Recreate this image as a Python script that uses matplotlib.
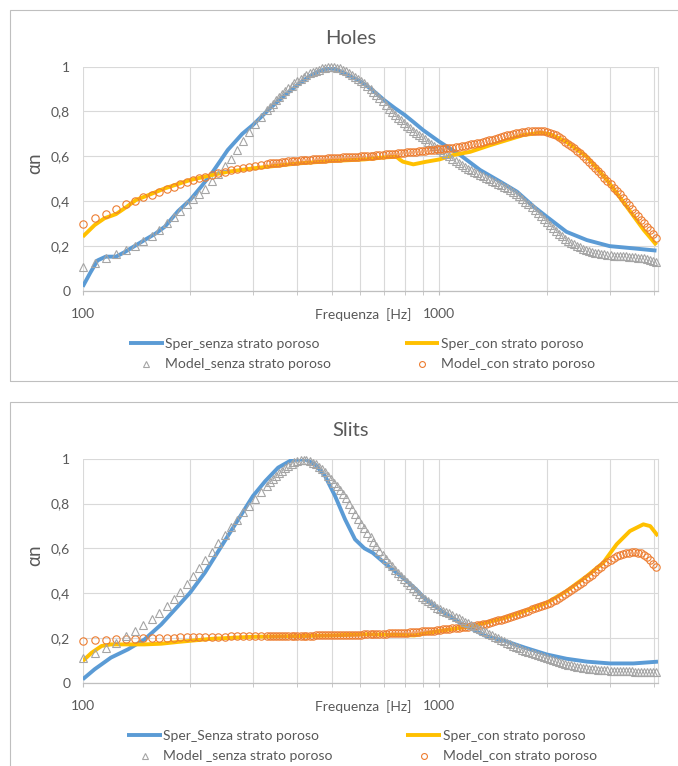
import matplotlib.pyplot as plt
from matplotlib.patches import Rectangle
from matplotlib.ticker import FixedLocator, NullFormatter

plt.rcParams['font.family'] = ['Lato', 'DejaVu Sans']

BLUE = '#5B9BD5'
YELLOW = '#FFC000'
GRAY = '#A5A5A5'
ORANGE = '#ED7D31'
TXT = '#595959'
GRID = '#D9D9D9'

# frequencies of the model points [Hz]
f_model = [100, 108, 116, 124, 132, 140, 148, 156, 164, 172, 180, 188, 196, 204, 212, 220, 230, 240, 250,
           260, 270, 281, 292, 304, 316, 329, 342, 356, 370,
           385, 400, 416, 433, 450, 468, 487, 506, 527, 548,
           570, 592, 616, 641, 666, 693, 721, 750, 780, 811,
           843, 877, 912, 949, 987, 1026, 1067, 1110, 1154, 1200,
           1248, 1298, 1350, 1404, 1460, 1519, 1580, 1643, 1709, 1777,
           1848, 1922, 1999, 2079, 2162, 2249, 2339, 2432, 2530, 2631,
           2736, 2846, 2959, 3078, 3201, 3329, 3462, 3600, 3744, 3894,
           4050]
# the model points are denser above ~330 Hz: these lie between the ones above
f_model_b = [335, 349, 363, 377, 392, 408, 424, 441, 459, 477,
             496, 516, 537, 559, 581, 604, 628, 653, 679, 707,
             735, 765, 795, 827, 860, 894, 930, 968, 1006, 1046,
             1088, 1132, 1177, 1224, 1273, 1324, 1377, 1432, 1489, 1549,
             1611, 1676, 1743, 1812, 1885, 1960, 2039, 2120, 2205, 2294,
             2385, 2481, 2580, 2683, 2791, 2902, 3018, 3139, 3265, 3395,
             3531, 3672, 3819, 3972]

# ---- Holes ----
holes_sper_senza_f = [100, 105, 110, 116, 124, 131, 140, 149, 160, 170, 185, 200, 215, 230, 255, 280, 300,
                      338, 370, 400, 430, 457, 488, 510, 550, 600, 650, 700, 750, 800, 850, 900, 1000,
                      1143, 1300, 1480, 1650, 1840, 2000, 2270, 2590, 3000, 3500, 4060]
holes_sper_senza = [0.018, 0.08, 0.135, 0.152, 0.152, 0.172, 0.20, 0.226, 0.255, 0.286, 0.355, 0.405, 0.465,
                    0.524, 0.628, 0.70, 0.74, 0.82, 0.875, 0.918, 0.955, 0.978, 0.993, 0.99, 0.965, 0.935,
                    0.895, 0.851, 0.815, 0.784, 0.75, 0.717, 0.665, 0.606, 0.539, 0.487, 0.442, 0.375,
                    0.33, 0.263, 0.226, 0.199, 0.189, 0.179]

holes_sper_con_f = [100, 108, 115, 124, 133, 141, 153, 170, 200, 230, 255, 300, 400, 500, 616, 700, 758,
                    775, 790, 845, 920, 1000, 1095, 1220, 1390, 1550, 1720, 1920, 2040, 2270, 2590, 2950,
                    3350, 3740, 4060]
holes_sper_con = [0.241, 0.293, 0.323, 0.342, 0.375, 0.405, 0.427, 0.457, 0.494, 0.516, 0.531, 0.546,
                  0.568, 0.579, 0.586, 0.595, 0.598, 0.585, 0.576, 0.564, 0.576, 0.586, 0.606, 0.62,
                  0.65, 0.673, 0.695, 0.705, 0.699, 0.665, 0.598, 0.494, 0.375, 0.271, 0.204]

holes_model_senza = [0.104, 0.125, 0.144, 0.164, 0.180, 0.200, 0.222, 0.245, 0.272, 0.300, 0.328, 0.355,
                     0.385, 0.410, 0.430, 0.455, 0.490, 0.520, 0.555,
                     0.59, 0.63, 0.67, 0.71, 0.745, 0.775, 0.805, 0.835, 0.865, 0.89,
                     0.915, 0.938, 0.955, 0.97, 0.982, 0.992, 0.998, 0.998, 0.992, 0.98,
                     0.965, 0.945, 0.925, 0.90, 0.875, 0.845, 0.81, 0.785, 0.76, 0.735,
                     0.715, 0.695, 0.675, 0.655, 0.635, 0.62, 0.60, 0.58, 0.56, 0.545,
                     0.53, 0.518, 0.505, 0.49, 0.478, 0.465, 0.45, 0.432, 0.41, 0.385,
                     0.36, 0.335, 0.305, 0.28, 0.255, 0.232, 0.215, 0.20, 0.188, 0.178,
                     0.17, 0.164, 0.16, 0.157, 0.155, 0.153, 0.151, 0.148, 0.144, 0.138,
                     0.128]
holes_model_senza_b = [0.82, 0.85, 0.878, 0.903, 0.927, 0.947, 0.963, 0.976, 0.987, 0.995,
                       0.999, 0.996, 0.986, 0.973, 0.955, 0.935, 0.913, 0.888, 0.86, 0.828,
                       0.798, 0.773, 0.748, 0.725, 0.705, 0.685, 0.665, 0.645, 0.628, 0.61,
                       0.59, 0.57, 0.553, 0.538, 0.524, 0.512, 0.498, 0.484, 0.472, 0.458,
                       0.441, 0.421, 0.398, 0.373, 0.348, 0.32, 0.293, 0.268, 0.244, 0.224,
                       0.208, 0.194, 0.183, 0.174, 0.167, 0.162, 0.158, 0.156, 0.154, 0.152,
                       0.15, 0.146, 0.141, 0.133]

holes_model_con = [0.298, 0.323, 0.342, 0.363, 0.385, 0.40, 0.417, 0.429, 0.442, 0.454, 0.464, 0.476,
                   0.487, 0.494, 0.501, 0.508, 0.516, 0.524, 0.531,
                   0.537, 0.544, 0.549, 0.554, 0.558, 0.562, 0.566, 0.569, 0.572, 0.575,
                   0.578, 0.581, 0.583, 0.585, 0.587, 0.589, 0.591, 0.592, 0.594, 0.596,
                   0.597, 0.599, 0.60, 0.602, 0.604, 0.607, 0.61, 0.612, 0.614, 0.617,
                   0.62, 0.622, 0.625, 0.628, 0.631, 0.634, 0.637, 0.641, 0.645, 0.65,
                   0.655, 0.66, 0.667, 0.674, 0.682, 0.689, 0.696, 0.702, 0.707, 0.711,
                   0.714, 0.715, 0.71, 0.70, 0.685, 0.665, 0.645, 0.625, 0.60, 0.575,
                   0.548, 0.52, 0.49, 0.46, 0.43, 0.397, 0.365, 0.333, 0.30, 0.27,
                   0.237]
holes_model_con_b = [0.568, 0.571, 0.574, 0.577, 0.58, 0.582, 0.584, 0.586, 0.588, 0.59,
                     0.592, 0.593, 0.595, 0.597, 0.598, 0.60, 0.601, 0.603, 0.606, 0.609,
                     0.611, 0.613, 0.616, 0.619, 0.621, 0.624, 0.627, 0.63, 0.633, 0.636,
                     0.639, 0.643, 0.648, 0.653, 0.658, 0.664, 0.671, 0.678, 0.686, 0.693,
                     0.699, 0.705, 0.709, 0.713, 0.715, 0.713, 0.705, 0.693, 0.675, 0.655,
                     0.635, 0.613, 0.588, 0.562, 0.534, 0.505, 0.475, 0.445, 0.414, 0.381,
                     0.349, 0.317, 0.285, 0.254]

# ---- Slits ----
slits_sper_senza_f = [100, 108, 120, 134, 149, 166, 185, 200, 220, 245, 273, 300, 325, 353, 385, 420, 448,
                      478, 510, 544, 580, 616, 650, 700, 800, 860, 915, 1000, 1140, 1240, 1350, 1530,
                      1740, 2000, 2270, 2590, 3010, 3500, 4100]
slits_sper_senza = [0.015, 0.06, 0.112, 0.149, 0.193, 0.26, 0.342, 0.402, 0.491, 0.61, 0.729, 0.833,
                    0.90, 0.96, 0.994, 0.997, 0.975, 0.923, 0.833, 0.729, 0.64, 0.60, 0.58, 0.536,
                    0.461, 0.417, 0.372, 0.327, 0.268, 0.238, 0.208, 0.186, 0.156, 0.126, 0.107,
                    0.094, 0.086, 0.086, 0.094]

slits_sper_con_f = [100, 106, 113, 120, 134, 149, 166, 185, 230, 300, 400, 500, 616, 750, 850, 1000,
                    1240, 1530, 1740, 2000, 2270, 2590, 2880, 3140, 3420, 3730, 3900, 4100]
slits_sper_con = [0.097, 0.134, 0.164, 0.171, 0.171, 0.171, 0.174, 0.182, 0.196, 0.205, 0.208, 0.211,
                  0.216, 0.214, 0.211, 0.231, 0.253, 0.29, 0.32, 0.357, 0.409, 0.476, 0.536, 0.618,
                  0.677, 0.707, 0.699, 0.655]

slits_model_senza = [0.112, 0.134, 0.155, 0.179, 0.21, 0.23, 0.256, 0.283, 0.31, 0.342, 0.375, 0.405,
                     0.44, 0.476, 0.513, 0.548, 0.585, 0.625, 0.66,
                     0.695, 0.727, 0.76, 0.79, 0.82, 0.85, 0.88, 0.91, 0.935, 0.958,
                     0.978, 0.99, 0.996, 0.99, 0.975, 0.952, 0.925, 0.893, 0.86, 0.825,
                     0.775, 0.73, 0.69, 0.65, 0.61, 0.57, 0.535, 0.505, 0.478, 0.45,
                     0.425, 0.395, 0.372, 0.355, 0.335, 0.322, 0.31, 0.295, 0.28, 0.266,
                     0.252, 0.238, 0.225, 0.212, 0.198, 0.185, 0.172, 0.16, 0.148, 0.138,
                     0.128, 0.119, 0.11, 0.101, 0.092, 0.085, 0.078, 0.072, 0.067, 0.063,
                     0.06, 0.057, 0.055, 0.054, 0.053, 0.052, 0.051, 0.05, 0.049, 0.048,
                     0.046]
slits_model_senza_b = [0.895, 0.923, 0.947, 0.968, 0.985, 0.994, 0.994, 0.983, 0.964, 0.939,
                       0.909, 0.877, 0.843, 0.80, 0.752, 0.71, 0.67, 0.63, 0.59, 0.552,
                       0.52, 0.491, 0.464, 0.437, 0.41, 0.383, 0.363, 0.345, 0.328, 0.316,
                       0.302, 0.288, 0.273, 0.259, 0.245, 0.231, 0.218, 0.205, 0.191, 0.178,
                       0.166, 0.154, 0.143, 0.133, 0.123, 0.114, 0.105, 0.096, 0.088, 0.081,
                       0.075, 0.069, 0.065, 0.061, 0.058, 0.056, 0.054, 0.053, 0.052, 0.051,
                       0.05, 0.049, 0.048, 0.047]

slits_model_con = [0.186, 0.19, 0.192, 0.194, 0.196, 0.197, 0.198, 0.199, 0.20, 0.20, 0.201, 0.202,
                   0.203, 0.204, 0.204, 0.205, 0.205, 0.206, 0.206,
                   0.207, 0.207, 0.207, 0.208, 0.208, 0.208, 0.208, 0.209, 0.209, 0.209,
                   0.209, 0.21, 0.21, 0.21, 0.211, 0.211, 0.212, 0.212, 0.213, 0.214,
                   0.214, 0.215, 0.216, 0.217, 0.218, 0.219, 0.22, 0.221, 0.222, 0.224,
                   0.226, 0.228, 0.23, 0.232, 0.235, 0.238, 0.241, 0.244, 0.247, 0.25,
                   0.254, 0.259, 0.264, 0.27, 0.278, 0.286, 0.294, 0.303, 0.312, 0.322,
                   0.333, 0.343, 0.352, 0.364, 0.378, 0.395, 0.412, 0.43, 0.45, 0.472,
                   0.495, 0.518, 0.54, 0.557, 0.57, 0.578, 0.582, 0.58, 0.572, 0.548,
                   0.515]
slits_model_con_b = [0.208, 0.209, 0.209, 0.209, 0.209, 0.21, 0.21, 0.21, 0.211, 0.211,
                     0.212, 0.212, 0.213, 0.214, 0.214, 0.215, 0.216, 0.217, 0.218, 0.219,
                     0.22, 0.221, 0.223, 0.225, 0.227, 0.229, 0.231, 0.233, 0.236, 0.239,
                     0.242, 0.245, 0.248, 0.252, 0.256, 0.261, 0.267, 0.274, 0.282, 0.29,
                     0.298, 0.307, 0.317, 0.327, 0.338, 0.347, 0.358, 0.371, 0.386, 0.403,
                     0.421, 0.44, 0.461, 0.483, 0.506, 0.529, 0.549, 0.564, 0.574, 0.58,
                     0.582, 0.577, 0.561, 0.532]

y_ticks = [0, 0.2, 0.4, 0.6, 0.8, 1]
y_ticklabels = ['0', '0,2', '0,4', '0,6', '0,8', '1']
x_minor = [200, 300, 400, 500, 600, 700, 800, 900, 2000, 3000, 4000]

W, H = 678, 766
fig = plt.figure(figsize=(W / 100, H / 100), dpi=100)


def px(x0, y0, x1, y1):
    # pixel box -> figure fraction [left, bottom, width, height]
    return [x0 / W, 1 - y1 / H, (x1 - x0) / W, (y1 - y0) / H]


def panel(off, title, sper_senza, sper_con, model_senza, model_con, labels, gray_on_top=False):
    # chart border (runs off the right edge of the picture)
    fig.patches.append(Rectangle((10 / W, 1 - (off + 381.3) / H), 1.2, 371.3 / H,
                                 transform=fig.transFigure, fill=False,
                                 edgecolor='#BFBFBF', lw=0.8))
    ax = fig.add_axes(px(82.7, off + 66.7, 658, off + 290.7))
    fm = f_model + f_model_b
    l1, = ax.plot(sper_senza[0], sper_senza[1], color=BLUE, lw=2.8, zorder=3,
                  solid_capstyle='butt', label=labels[0])
    l2, = ax.plot(sper_con[0], sper_con[1], color=YELLOW, lw=2.8, zorder=4,
                  solid_capstyle='butt', label=labels[1])
    m1, = ax.plot(fm, model_senza, ls='none', marker='^', ms=5.3, mfc='none',
                  mec=GRAY, mew=0.8, zorder=6 if gray_on_top else 5, clip_on=False, label=labels[2])
    m2, = ax.plot(fm, model_con, ls='none', marker='o', ms=5.3, mfc='none',
                  mec=ORANGE, mew=0.8, zorder=5 if gray_on_top else 6, clip_on=False, label=labels[3])

    ax.set_xscale('log')
    ax.set_xlim(100, 4100)
    ax.set_ylim(0, 1)
    ax.set_xticks([100, 1000])
    ax.set_xticklabels(['100', '1000'])
    ax.xaxis.set_minor_locator(FixedLocator(x_minor))
    ax.xaxis.set_minor_formatter(NullFormatter())
    ax.set_yticks(y_ticks)
    ax.set_yticklabels(y_ticklabels)
    ax.grid(True, which='both', color=GRID, lw=0.8)
    ax.set_axisbelow(True)
    for s in ['top', 'left']:
        ax.spines[s].set_visible(False)
    ax.spines['right'].set_color(GRID)
    ax.spines['right'].set_linewidth(0.8)
    ax.spines['bottom'].set_color('#BFBFBF')
    ax.spines['bottom'].set_linewidth(0.9)
    ax.tick_params(axis='x', which='both', direction='out', length=3, color='#BFBFBF',
                   labelsize=10, labelcolor=TXT, pad=9.5)
    ax.tick_params(axis='y', length=0, labelsize=10, labelcolor=TXT, pad=9)

    ax.text(0.488, -0.108, 'Frequenza  [Hz]', transform=ax.transAxes, ha='center', va='center',
            fontsize=10, color=TXT)
    ax.text(0.465, 1.128, title, transform=ax.transAxes, ha='center', va='center',
            fontsize=14.5, color=TXT)
    ax.text(-0.083, 0.57, 'αn', transform=ax.transAxes, ha='center', va='center',
            rotation=90, fontsize=13.5, color=TXT)

    fig.legend(handles=[l1, m1, l2, m2], ncol=2, loc='center',
               bbox_to_anchor=(362 / W, 1 - (off + 354.2) / H), frameon=False,
               fontsize=10, labelcolor=TXT, handlelength=2.5, handletextpad=0.1,
               columnspacing=5.3, labelspacing=0.6, borderpad=0, markerscale=0.8)
    return ax


panel(0, 'Holes',
      (holes_sper_senza_f, holes_sper_senza), (holes_sper_con_f, holes_sper_con),
      holes_model_senza + holes_model_senza_b, holes_model_con + holes_model_con_b,
      ['Sper_senza strato poroso', 'Sper_con strato poroso',
       'Model_senza strato poroso', 'Model_con strato poroso'])

panel(392, 'Slits',
      (slits_sper_senza_f, slits_sper_senza), (slits_sper_con_f, slits_sper_con),
      slits_model_senza + slits_model_senza_b, slits_model_con + slits_model_con_b,
      ['Sper_Senza strato poroso', 'Sper_con strato poroso',
       'Model _senza strato poroso', 'Model_con strato poroso'], gray_on_top=True)

fig.savefig('out.png', dpi=100)
